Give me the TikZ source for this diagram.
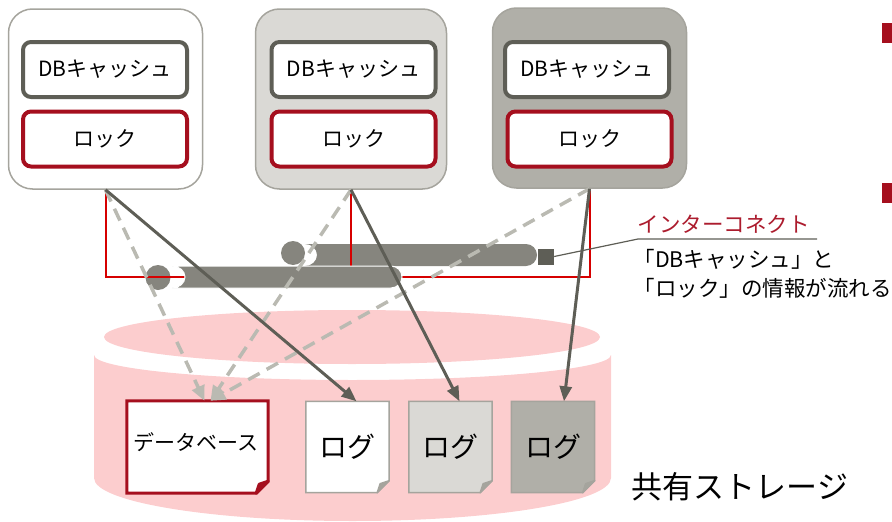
\documentclass[tikz,border=0pt]{standalone}
\usepackage{fontspec}
\setmainfont{Noto Sans CJK JP}
\usepackage{tikz}
\usetikzlibrary{arrows.meta}

\definecolor{darkgrey}{RGB}{94,94,86}
\definecolor{pipegrey}{RGB}{134,133,126}
\definecolor{lightgrey}{RGB}{218,217,213}
\definecolor{stonegrey}{RGB}{176,175,168}
\definecolor{edgegrey}{RGB}{165,164,157}
\definecolor{dashgrey}{RGB}{186,186,178}
\definecolor{lockred}{RGB}{165,15,30}
\definecolor{wirered}{RGB}{214,0,0}
\definecolor{textred}{RGB}{172,28,46}
\definecolor{storagepink}{RGB}{252,205,206}

\tikzset{
  server/.style = {draw = edgegrey, line width = 1.5pt, rounded corners = 24pt, minimum width = 194pt, minimum height = 180pt},
  cachebox/.style = {draw = darkgrey, fill = white, line width = 4pt, rounded corners = 8pt, minimum width = 164pt, minimum height = 55pt, font = \fontsize{21}{21}\selectfont},
  lockbox/.style = {cachebox, draw = lockred},
  sheet/.style = {minimum width = 83pt, minimum height = 91pt},
  wire/.style = {draw = wirered, line width = 2pt},
  logflow/.style = {draw = darkgrey, line width = 3pt, -{Triangle[length = 15pt, width = 12pt]}},
  dbflow/.style = {draw = dashgrey, line width = 3.5pt, dash pattern = on 13pt off 8pt, -{Triangle[length = 15pt, width = 13pt]}},
}

% sheet of paper with a turned-down corner: node, fill, edge, edge width
\newcommand{\paper}[4]{%
  \filldraw [fill = #2, draw = #3, line width = #4] (#1.north west) -- (#1.north east) -- ([yshift = 12pt]#1.south east) -- ([xshift = -12pt]#1.south east) -- (#1.south west) -- cycle;
  \filldraw [fill = #3, draw = #3, line width = #4, line join = round] ([yshift = 12pt]#1.south east) -- ([xshift = -12pt]#1.south east) -- ([xshift = -9pt, yshift = 9pt]#1.south east) -- cycle;
}

\begin{document}
\begin{tikzpicture}[x = 1pt, y = -1pt]
%\draw[very thin, color = gray, step = 50](0, 0) grid (892, 522);
\useasboundingbox (0, 0) rectangle (892, 522);

% shared storage
\fill [storagepink] (352, 337) ellipse [x radius = 248pt, y radius = 27pt];
\fill [storagepink] (94, 355) arc [start angle = 180, end angle = 360, x radius = 258.5pt, y radius = 25pt] -- (611, 478) arc [start angle = 0, end angle = -180, x radius = 258.5pt, y radius = 43pt] -- cycle;
\node at (740, 487) {\fontsize{31}{31}\selectfont 共有ストレージ};

% database and logs
\path (197.5, 447) node [sheet, minimum width = 141pt, minimum height = 92pt] (db) {};
\paper{db}{white}{lockred}{3pt}
\node at (196, 442) {\fontsize{21}{21}\selectfont データベース};
\path (347.5, 447) node [sheet] (log1) {};
\paper{log1}{white}{edgegrey}{1.5pt}
\path (450.5, 447) node [sheet] (log2) {};
\paper{log2}{lightgrey}{edgegrey}{1.5pt}
\path (553, 447) node [sheet] (log3) {};
\paper{log3}{stonegrey}{edgegrey}{1.5pt}
\node at (log1) {\fontsize{28}{28}\selectfont ログ};
\node at (log2) {\fontsize{28}{28}\selectfont ログ};
\node at (log3) {\fontsize{28}{28}\selectfont ログ};

% servers
\node (server1) at (105.5, 99) [server, fill = white] {};
\node (server2) at (351, 99) [server, fill = lightgrey, minimum width = 191pt] {};
\node (server3) at (589.5, 98) [server, fill = stonegrey] {};
\node (cache1) at (105, 69.5) [cachebox] {DBキャッシュ};
\node (lock1) at (105, 139) [lockbox] {ロック};
\node (cache2) at (353.5, 69.5) [cachebox] {DBキャッシュ};
\node (lock2) at (353.5, 139) [lockbox] {ロック};
\node (cache3) at (587, 69.5) [cachebox] {DBキャッシュ};
\node (lock3) at (589.5, 139) [lockbox] {ロック};

% interconnect
\fill [pipegrey] (305, 244) -- (526, 244) arc [start angle = 90, end angle = -90, radius = 11pt] -- (305, 266) arc [start angle = -90, end angle = 90, x radius = 12pt, y radius = 11pt] -- cycle;
\fill [pipegrey] (293, 253) circle (12pt);
\fill [pipegrey] (158, 277.5) circle (12.5pt);
\draw [wire] (server1.south) -- ++(0, 87) -| (server3.south);
\draw [wire] (server2.south) -- ++(0, 77);
\filldraw [pipegrey, draw = white, line width = 1pt] (172, 266) -- (391, 266) arc [start angle = 90, end angle = -90, radius = 11pt] -- (172, 288) arc [start angle = -90, end angle = 90, x radius = 13pt, y radius = 11pt] -- cycle;
\node (port) at (546, 256.5) [fill = darkgrey, minimum size = 16pt, inner sep = 0pt] {};

% callout
\node (ictext) at (634, 224) [anchor = west, text = textred] {\fontsize{21.5}{21.5}\selectfont インターコネクト};
\coordinate (kink) at (638, 239);
\coordinate (lineend) at (817, 239);
\draw [darkgrey, line width = 1.2pt] (port.east) -- (kink) -- (lineend);
\node (ictext2) at (630, 246) [anchor = north west, align = left, font = \fontsize{21.5}{28.5}\selectfont] {「DBキャッシュ」と\\「ロック」の情報が流れる};

% writes to the database and to the logs
\draw [dbflow] (server1.south) -- ([xshift = 7pt]db.north);
\draw [dbflow] (server2.south) -- ([xshift = 13pt]db.north);
\draw [dbflow] (server3.south) -- ([xshift = 13pt]db.north);
\draw [logflow] (server1.south) -- ([xshift = 9pt]log1.north);
\draw [logflow] (server2.south) -- ([xshift = 9pt]log2.north);
\draw [logflow] (server3.south) -- ([xshift = 11pt]log3.north);

% bullets at the right edge
\fill [lockred] (882, 23) rectangle (892, 43);
\fill [lockred] (882, 183) rectangle (892, 203);
\end{tikzpicture}
\end{document}
